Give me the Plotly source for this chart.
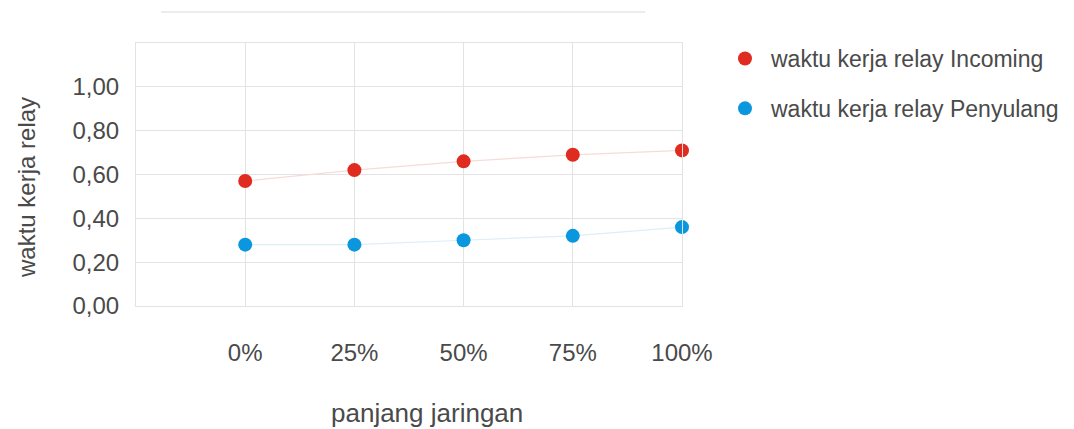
import plotly.graph_objects as go

# Network length categories and relay operating times (seconds)
panjang = ["0%", "25%", "50%", "75%", "100%"]
incoming = [0.57, 0.62, 0.66, 0.69, 0.71]
penyulang = [0.28, 0.28, 0.30, 0.32, 0.36]
y_ticks = [0.0, 0.2, 0.4, 0.6, 0.8, 1.0]

W, H = 1074, 429
ML, MR, MT, MB = 136, 392, 43, 123
PW, PH = W - ML - MR, H - MT - MB

def px_x(x):
    return (x - ML) / PW

def px_y(y):
    return (H - MB - y) / PH

FONT = "Liberation Sans, Arial, sans-serif"
TXT = "#4a4a4a"
GRID = "#e3e3e3"

series = [
    ("waktu kerja relay Incoming", incoming, "#df2b20", "#f5dcd9", "a"),
    ("waktu kerja relay Penyulang", penyulang, "#0b97dd", "#dceef8", "b"),
]

fig = go.Figure()
for name, vals, dot, faint, grp in series:
    # thin connecting line, kept out of the legend
    fig.add_trace(go.Scatter(
        x=panjang, y=vals, mode="lines", showlegend=False,
        line=dict(color=faint, width=1.2), hoverinfo="skip",
    ))
for name, vals, dot, faint, grp in series:
    fig.add_trace(go.Scatter(
        x=panjang, y=vals, name=name, mode="markers", legendgroup=grp,
        marker=dict(color=dot, size=14), cliponaxis=False,
    ))

fig.update_layout(
    width=W, height=H,
    margin=dict(l=ML, r=MR, t=MT, b=MB, autoexpand=False),
    paper_bgcolor="white", plot_bgcolor="white",
    separators=",.",
    font=dict(family=FONT, color=TXT),
    showlegend=True,
    legend=dict(
        xref="container", yref="container",
        x=719 / W, y=1 - 37 / H, xanchor="left", yanchor="top",
        font=dict(size=23, color=TXT), traceorder="grouped",
        tracegroupgap=17, bgcolor="rgba(0,0,0,0)", itemwidth=42,
    ),
    xaxis=dict(
        type="category", range=[-1, 4],
        showgrid=True, gridcolor=GRID, gridwidth=1,
        showline=True, linecolor=GRID, linewidth=1, mirror=True,
        ticks="", tickfont=dict(size=24, color=TXT),
        ticklabelstandoff=25, zeroline=False,
    ),
    yaxis=dict(
        range=[0, 1.2], tickvals=y_ticks, tickformat=".2f",
        showgrid=True, gridcolor=GRID, gridwidth=1,
        showline=True, linecolor=GRID, linewidth=1, mirror=True,
        ticks="", tickfont=dict(size=24, color=TXT),
        ticklabelstandoff=11, zeroline=False,
    ),
    shapes=[dict(
        type="line", xref="paper", yref="paper",
        x0=px_x(161), x1=px_x(645), y0=px_y(12), y1=px_y(12),
        line=dict(color="#e6e6e6", width=1.5),
    )],
    annotations=[
        dict(text="panjang jaringan", xref="paper", yref="paper",
             x=px_x(427), y=px_y(413), xanchor="center", yanchor="middle",
             showarrow=False, font=dict(size=26, color=TXT)),
        dict(text="waktu kerja relay", xref="paper", yref="paper",
             x=px_x(27), y=px_y(188), xanchor="center", yanchor="middle",
             textangle=-90, showarrow=False, font=dict(size=24, color=TXT)),
    ],
)

fig.write_html("out.html")
